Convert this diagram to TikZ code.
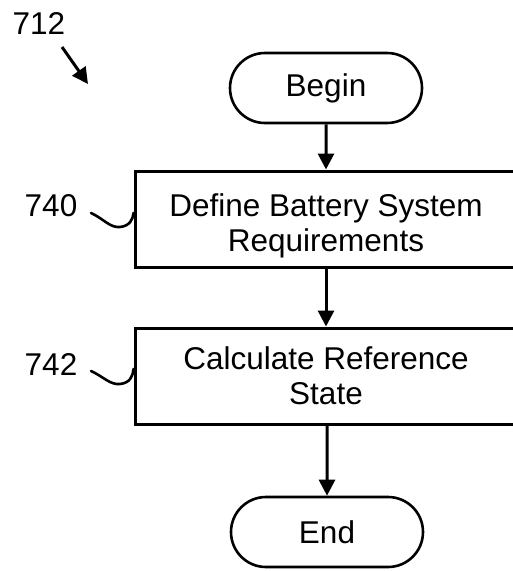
\documentclass[tikz,border=0pt]{standalone}
\usepackage{fontspec}
\setmainfont{Liberation Sans}
\usetikzlibrary{arrows.meta,shapes.misc}
\begin{document}
\begin{tikzpicture}[x=1pt,y=-1pt,
  every node/.style={font=\fontsize{31.5}{35}\selectfont, inner sep=0pt},
  term/.style={draw, rounded rectangle, line width=2.6pt, minimum width=192pt, minimum height=70pt},
  stepbox/.style={draw, rectangle, line width=3pt, minimum width=382pt, minimum height=96pt, align=center},
  boxtext/.style={align=center},
  flow/.style={line width=3pt, -{Triangle[length=16pt,width=16pt]}},
  lead/.style={line width=2.6pt, line cap=round}]
\useasboundingbox (0,0) rectangle (513,571);
\clip (0,0) rectangle (513,571);
\node (lbl712) at (39,23) {712};
\coordinate (a712s) at (62,47);
\coordinate (a712e) at (88,84);
\draw[line width=3pt, -{Triangle[length=16pt,width=16pt]}] (a712s) -- (a712e);

\node[term] (begin) at (326,88) {Begin};
\node[stepbox] (b1) at (326,219) {};
\node[boxtext] (t1) at (326,226) {Define Battery System\\Requirements};
\node[stepbox] (b2) at (326,376) {Calculate Reference\\State};
\node[term] (end) at (327,532) {End};

\draw[flow] (begin) -- (b1);
\draw[flow] (b1) -- (b2);
\draw[flow] (b2.south -| end.north) -- (end);

\node (l740) at (51,206) {740};
\node (l742) at (51,364) {742};
\coordinate (s740) at (91,213);
\coordinate (s742) at (91,371);
\draw[lead] (s740) .. controls (104,219) and (110,228) .. (120,227) .. controls (130,226) and (133,219) .. ([yshift=6pt]b1.west);
\draw[lead] (s742) .. controls (104,377) and (110,385) .. (120,384) .. controls (130,383) and (133,376) .. ([yshift=7pt]b2.west);
\end{tikzpicture}
\end{document}
